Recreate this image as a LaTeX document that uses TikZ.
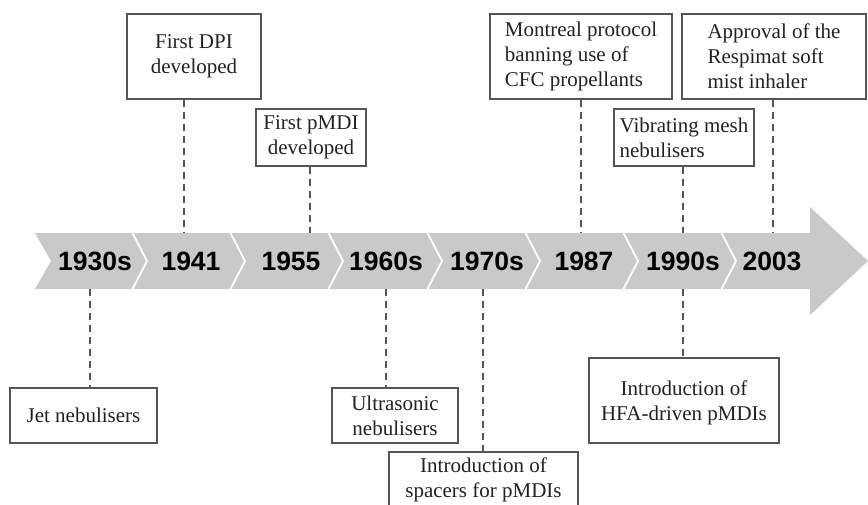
\documentclass[tikz,border=0pt]{standalone}
\usepackage{fontspec}
\setmainfont{Liberation Serif}
\newfontfamily\yearfont{Liberation Sans}
\definecolor{bandgray}{HTML}{C9C9C9}
\definecolor{linegray}{HTML}{555555}
\definecolor{txt}{HTML}{222222}
\begin{document}
\begin{tikzpicture}[x=1pt,y=-1pt,
  evbox/.style={draw=linegray, line width=1.2pt, fill=white, inner sep=0pt, align=center,
    text=txt, font=\fontsize{21}{25}\selectfont},
  evleft/.style={evbox, align=left},
  dline/.style={draw=linegray, line width=1.1pt, dash pattern=on 7pt off 5pt},
  year/.style={font=\yearfont\bfseries\fontsize{26.5}{30}\selectfont, text=black, inner sep=0pt},
  sep/.style={draw=white, line width=1.8pt}]
\useasboundingbox (0,0) rectangle (868,504);
\clip (0,0) rectangle (868,504);
\fill[white] (0,0) rectangle (868,504);
% band arrow
\fill[bandgray] (35,233) -- (810,233) -- (810,207) -- (868,261) -- (810,315) -- (810,289) -- (35,289) -- (51,261) -- cycle;
\foreach \b in {132,230,328,427,525,623,721}
  \draw[sep] (\b,232) -- (\b+15,261) -- (\b,290);
% years
\node[year] (y1930) at (95,261) {1930s};
\node[year] (y1941) at (191,261) {1941};
\node[year] (y1955) at (291,261) {1955};
\node[year] (y1960) at (386,261) {1960s};
\node[year] (y1970) at (487,261) {1970s};
\node[year] (y1987) at (584,261) {1987};
\node[year] (y1990) at (683,261) {1990s};
\node[year] (y2003) at (772,261) {2003};
% upper boxes
\node[evbox, minimum width=134pt, minimum height=85pt] (dpi) at (194,56.5) {First DPI\\developed};
\node[evbox, minimum width=110pt, minimum height=57pt] (pmdi) at (311,137.5) {First pMDI\\developed};
\node[evleft, minimum width=182pt, minimum height=85pt] (montreal) at (581,56.5) {Montreal protocol\\banning use of\\CFC propellants};
\node[evleft, minimum width=184pt, minimum height=85pt] (respimat) at (774,56.5) {Approval of the\\Respimat soft\\mist inhaler};
\node[evleft, minimum width=140pt, minimum height=57pt] (mesh) at (684,137.5) {Vibrating mesh\\nebulisers};
% lower boxes
\node[evbox, minimum width=147pt, minimum height=55pt] (jet) at (83.5,415.5) {Jet nebulisers};
\node[evbox, minimum width=126pt, minimum height=55pt] (ultra) at (395,415.5) {Ultrasonic\\nebulisers};
\node[evbox, minimum width=189pt, minimum height=56pt] (spacers) at (483.5,480) {Introduction of\\spacers for pMDIs};
\node[evbox, minimum width=190pt, minimum height=85pt, text depth=0pt] (hfa) at (684,400.5) {Introduction of\\HFA-driven pMDIs};
% anchor points on the band edges
\coordinate (cjet) at (90,289);
\coordinate (cdpi) at (184,233);
\coordinate (cpmdi) at (310,233);
\coordinate (cultra) at (386,289);
\coordinate (cspacers) at (483,289);
\coordinate (cmontreal) at (581,233);
\coordinate (cmesh) at (683,233);
\coordinate (chfa) at (683,289);
\coordinate (crespimat) at (773,233);
% connectors
\draw[dline] (cdpi |- dpi.south) -- (cdpi);
\draw[dline] (cpmdi |- pmdi.south) -- (cpmdi);
\draw[dline] (cmontreal |- montreal.south) -- (cmontreal);
\draw[dline] (cmesh |- mesh.south) -- (cmesh);
\draw[dline] (crespimat |- respimat.south) -- (crespimat);
\draw[dline] (cjet) -- (cjet |- jet.north);
\draw[dline] (cultra) -- (cultra |- ultra.north);
\draw[dline] (cspacers) -- (cspacers |- spacers.north);
\draw[dline] (chfa) -- (chfa |- hfa.north);
\end{tikzpicture}
\end{document}
